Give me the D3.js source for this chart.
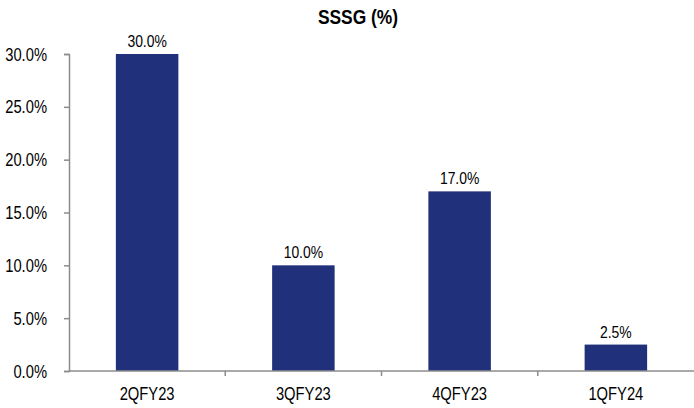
<!DOCTYPE html>
<html>
<head>
<meta charset="utf-8">
<script src="https://cdn.jsdelivr.net/npm/d3@7"></script>
<style>
  html, body { margin: 0; padding: 0; background: #fff; }
  svg text { font-family: "Liberation Sans", Arial, sans-serif; fill: #000; }
</style>
</head>
<body>
<svg id="chart" width="694" height="408"></svg>
<script>
// Same-store sales growth by quarter
const categories = ["2QFY23", "3QFY23", "4QFY23", "1QFY24"];
const sssg = [30.0, 10.0, 17.0, 2.5];
const yTicks = [0, 5, 10, 15, 20, 25, 30];

const svg = d3.select("#chart");
const margin = { top: 54, right: 0, bottom: 37, left: 69 };
const width = 694 - margin.left - margin.right;
const height = 408 - margin.top - margin.bottom;

const g = svg.append("g").attr("transform", `translate(${margin.left},${margin.top})`);

const x = d3.scaleBand().domain(categories).range([0, width]).paddingInner(0).paddingOuter(0);
const y = d3.scaleLinear().domain([0, 30]).range([height, 0]);

const axisColor = "#8c8c8c";

// Narrow-face look: squeeze text horizontally around its anchor point
function condense(sel, s) {
  sel.each(function () {
    const t = d3.select(this);
    const tx = +t.attr("x") || 0, ty = +t.attr("y") || 0;
    t.attr("x", 0).attr("y", 0)
      .attr("transform", `translate(${tx},${ty}) scale(${s},1)`);
  });
}

// Title
svg.append("text")
  .attr("x", 358).attr("y", 24)
  .attr("text-anchor", "middle")
  .style("font-size", "20px").style("font-weight", "bold")
  .text("SSSG (%)")
  .call(condense, 0.87);

// Bars
const barW = x.bandwidth() * 0.4;
g.selectAll("rect.bar").data(sssg).enter().append("rect")
  .attr("class", "bar")
  .attr("x", (d, i) => x(categories[i]) + (x.bandwidth() - barW) / 2)
  .attr("y", d => y(d))
  .attr("width", barW)
  .attr("height", d => height - y(d))
  .attr("fill", "#21307a");

// Value labels
g.selectAll("text.val").data(sssg).enter().append("text")
  .attr("class", "val")
  .attr("x", (d, i) => x(categories[i]) + x.bandwidth() / 2)
  .attr("y", d => y(d) - 7)
  .attr("text-anchor", "middle")
  .style("font-size", "17px")
  .text(d => d.toFixed(1) + "%")
  .call(condense, 0.82);

// Y axis
const yAxis = g.append("g")
  .call(d3.axisLeft(y).tickValues(yTicks).tickSize(5).tickPadding(17)
    .tickFormat(d => d.toFixed(1) + "%"));
yAxis.select(".domain").attr("stroke", axisColor).attr("stroke-width", 1.5);
yAxis.selectAll(".tick line").attr("stroke", axisColor).attr("stroke-width", 1.5);
yAxis.selectAll(".tick text")
  .attr("dy", null).attr("y", 6)
  .style("font-size", "18px")
  .style("font-family", null)
  .call(condense, 0.82);

// X axis with ticks at band boundaries
const xAxis = g.append("g").attr("transform", `translate(0,${height})`);
xAxis.append("line")
  .attr("x1", 0).attr("x2", width)
  .attr("stroke", axisColor).attr("stroke-width", 1.5);
xAxis.selectAll("line.sep").data(categories.slice(1)).enter().append("line")
  .attr("class", "sep")
  .attr("x1", d => x(d)).attr("x2", d => x(d))
  .attr("y1", 0).attr("y2", 5)
  .attr("stroke", axisColor).attr("stroke-width", 1.5);
xAxis.selectAll("text").data(categories).enter().append("text")
  .attr("x", d => x(d) + x.bandwidth() / 2)
  .attr("y", 29)
  .attr("text-anchor", "middle")
  .style("font-size", "18px")
  .text(d => d)
  .call(condense, 0.82);
</script>
</body>
</html>
